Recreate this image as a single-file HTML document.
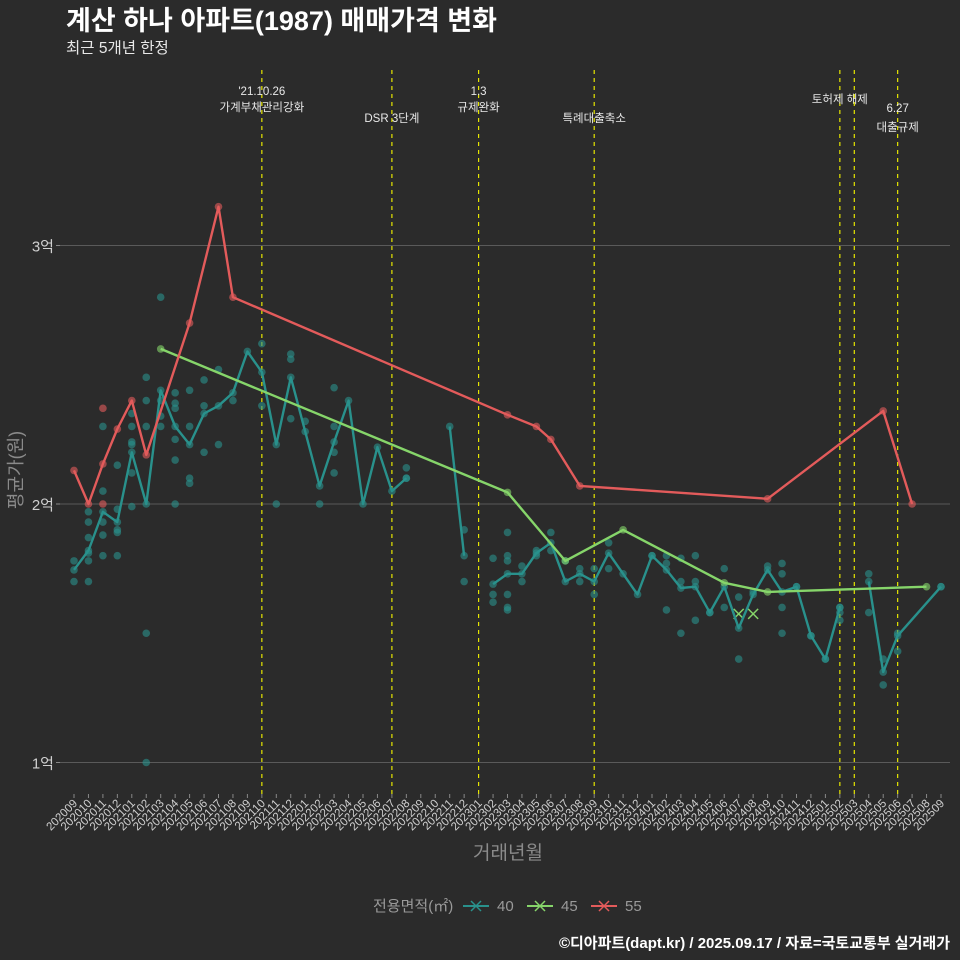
<!DOCTYPE html>
<html><head><meta charset="utf-8"><style>
body{margin:0;background:#2b2b2b;}
svg{display:block;font-family:"Liberation Sans","Noto Sans CJK KR",sans-serif;}
</style></head><body>
<svg id="chart" width="960" height="960" viewBox="0 0 960 960" xmlns="http://www.w3.org/2000/svg">
<rect width="960" height="960" fill="#2b2b2b"/>
<text x="66" y="30" fill="#ffffff" font-size="27" font-weight="bold">계산 하나 아파트(1987) 매매가격 변화</text>
<text x="66" y="53" fill="#e8e8e8" font-size="15.5">최근 5개년 한정</text>
<g id="grid"></g><g id="events"></g><g id="dots"></g><g id="lines"></g><g id="xaxis"></g><g id="yaxis"></g>
<text x="22" y="470" fill="#8a8a8a" font-size="18" text-anchor="middle" transform="rotate(-90 22 470)">평균가(원)</text>
<text x="508" y="859" fill="#8a8a8a" font-size="19" text-anchor="middle">거래년월</text>
<g>
<text x="373" y="911" fill="#9a9a9a" font-size="15">전용면적(㎡)</text>
<g><line x1="463" y1="906" x2="489" y2="906" stroke="#29918c" stroke-width="2"/><path d="M471 901l10 10M481 901l-10 10" stroke="#29918c" stroke-width="1.5"/><text x="497" y="911" fill="#9a9a9a" font-size="15">40</text></g>
<g><line x1="527" y1="906" x2="553" y2="906" stroke="#86d56a" stroke-width="2"/><path d="M535 901l10 10M545 901l-10 10" stroke="#86d56a" stroke-width="1.5"/><text x="561" y="911" fill="#9a9a9a" font-size="15">45</text></g>
<g><line x1="591" y1="906" x2="617" y2="906" stroke="#e35b5b" stroke-width="2"/><path d="M599 901l10 10M609 901l-10 10" stroke="#e35b5b" stroke-width="1.5"/><text x="625" y="911" fill="#9a9a9a" font-size="15">55</text></g>
</g>
<text x="950" y="948" fill="#ffffff" font-size="15" font-weight="bold" text-anchor="end">©디아파트(dapt.kr) / 2025.09.17 / 자료=국토교통부 실거래가</text>
</svg>
<script>
const yTicks=[1,2,3];
const yTickLabels=["1억","2억","3억"];
const startYear=2020, startMonth=9, monthCount=61;
// 40㎡ monthly average (null = break)
const m40=[0,1,2,3,4,5,6,7,8,9,10,11,12,13,14,15,16,17,18,19,20,21,22,23,null,26,27,null,29,30,31,32,33,34,35,36,37,38,39,40,41,42,43,44,45,46,47,48,49,50,51,52,53,null,55,56,57,60];
const v40=[1.745,1.82,1.97,1.93,2.20,2.00,2.44,2.30,2.23,2.35,2.38,2.43,2.59,2.51,2.23,2.49,2.28,2.07,2.24,2.40,2.00,2.22,2.05,2.10,null,2.30,1.80,null,1.69,1.73,1.73,1.81,1.85,1.70,1.73,1.70,1.81,1.73,1.65,1.80,1.745,1.675,1.68,1.58,1.68,1.52,1.65,1.745,1.66,1.68,1.49,1.40,1.60,null,1.70,1.35,1.49,1.68];
const m45=[6,30,34,38,45,48,59];
const v45=[2.60,2.045,1.78,1.90,1.695,1.66,1.68];
const m55=[0,1,2,3,4,5,8,10,11,30,32,33,35,48,56,58];
const v55=[2.13,2.00,2.155,2.29,2.40,2.19,2.70,3.15,2.80,2.345,2.30,2.25,2.07,2.02,2.36,2.00];
// individual 40㎡ transactions
const d40m=[0,0,1,1,1,1,1,1,2,2,2,2,2,3,3,3,3,3,4,4,4,4,4,4,5,5,5,5,5,6,6,6,6,7,7,7,7,7,7,8,8,8,8,9,9,9,10,10,11,13,13,14,15,15,15,16,17,18,18,18,18,23,23,27,27,29,29,29,30,30,30,30,30,30,31,31,32,32,33,33,34,35,35,36,36,37,37,40,41,41,41,42,42,42,43,43,43,44,45,45,46,46,47,48,49,49,49,49,50,51,52,53,53,53,55,55,56,56,57,57,60];
const d40v=[1.78,1.70,1.97,1.93,1.87,1.81,1.78,1.70,2.30,2.05,1.93,1.88,1.80,2.15,1.98,1.90,1.89,1.80,2.35,2.30,2.24,2.23,2.12,1.99,2.49,2.40,2.30,1.50,1.00,2.80,2.40,2.34,2.30,2.43,2.39,2.37,2.25,2.17,2.00,2.44,2.30,2.10,2.08,2.48,2.38,2.20,2.52,2.23,2.40,2.62,2.38,2.00,2.58,2.56,2.33,2.32,2.00,2.45,2.30,2.20,2.12,2.14,2.10,1.90,1.70,1.79,1.65,1.62,1.89,1.80,1.78,1.65,1.60,1.59,1.76,1.70,1.82,1.80,1.89,1.82,1.78,1.75,1.70,1.75,1.65,1.85,1.75,1.80,1.80,1.77,1.59,1.79,1.70,1.50,1.80,1.70,1.55,1.58,1.75,1.60,1.64,1.40,1.66,1.76,1.77,1.73,1.60,1.50,1.68,1.49,1.40,1.60,1.58,1.55,1.73,1.58,1.40,1.30,1.50,1.43,1.68];
const d45m=[46,47,48];
const d45v=[1.575,1.575,1.575];
const d55m=[2,2];
const d55v=[2.37,2.00];
const evMonths=[13,22,28,36,53,54,57];
const evLabel1=["'21.10.26","","1.3","","","","6.27"];
const evLabel2=["가계부채관리강화","DSR 3단계","규제완화","특례대출축소","토허제 해제","","대출규제"];

const NS="http://www.w3.org/2000/svg";
const X0=74,XW=867,YBASE=504,YU=258.5;
function x(i){return X0+i*XW/(monthCount-1);}
function y(v){return YBASE-(v-2)*YU;}
function mk(tag,attrs,parent){const e=document.createElementNS(NS,tag);for(const k in attrs)e.setAttribute(k,attrs[k]);parent.appendChild(e);return e;}
const grid=document.getElementById('grid'),yax=document.getElementById('yaxis'),xax=document.getElementById('xaxis');
yTicks.forEach((t,k)=>{
 const l=mk('line',{x1:60,x2:950,y1:y(t),y2:y(t),stroke:'#5a5a5a','stroke-width':1},grid);
 
 
 const tk=mk('line',{x1:56,x2:60,y1:y(t),y2:y(t),stroke:'#888'},yax);
 
 
 const tx=mk('text',{x:54,y:y(t)+6,fill:'#d0d0d0','font-size':15,'text-anchor':'end'},yax);
 tx.textContent=yTickLabels[k];
 
 
});
for(let i=0;i<monthCount;i++){
 const tot=startMonth-1+i,yr=startYear+Math.floor(tot/12),mo=tot%12+1;
 const lab=yr+(mo<10?'0':'')+mo;
 const tk=mk('line',{x1:x(i),x2:x(i),y1:794,y2:798,stroke:'#888'},xax);
 
 
 const t=mk('text',{x:x(i)+4,y:804,fill:'#d0d0d0','font-size':11.5,'text-anchor':'end',transform:`rotate(-45 ${x(i)+4} 804)`},xax);
 t.textContent=lab;
 
 
}
const ev=document.getElementById('events');
evMonths.forEach((m,k)=>{
 const l=mk('line',{x1:x(m),x2:x(m),y1:70,y2:798,stroke:'#e6e600','stroke-width':1.2,'stroke-dasharray':'4,4'},ev);
 
 
 const two=evLabel1[k]!=='';
 const yy=[[95,111],[122,122],[95,111],[122,122],[103,103],[0,0],[112,131]][k];
 if(two){const a=mk('text',{x:x(m),y:yy[0],fill:'#e8e8e8','font-size':11.5,'text-anchor':'middle'},ev);a.textContent=evLabel1[k];
  
  }
 if(evLabel2[k]){const b=mk('text',{x:x(m),y:yy[1],fill:'#e8e8e8','font-size':11.5,'text-anchor':'middle'},ev);b.textContent=evLabel2[k];
  
  }
});
const dots=document.getElementById('dots');
function dotset(ms,vs,col,name){ms.forEach((m,k)=>{if(m===null||vs[k]===null)return;
 const c=mk('circle',{cx:x(m),cy:y(vs[k]),r:3.8,fill:col,'fill-opacity':0.6},dots);
 
 });}
dotset(d40m,d40v,'#29918c','dot-40');
dotset(m40,v40,'#29918c','dot-40');
dotset(d55m,d55v,'#e35b5b','dot-55');
dotset(m45,v45,'#86d56a','dot-45');
dotset(m55,v55,'#e35b5b','dot-55');
d45m.forEach((m,k)=>{if(k>1)return;const cx=x(m),cy=y(d45v[k]);
 const p=mk('path',{d:`M${cx-5} ${cy-5}l10 10M${cx+5} ${cy-5}l-10 10`,stroke:'#86d56a','stroke-width':1.5},dots);
 
 });
const lines=document.getElementById('lines');
function line(ms,vs,col,name){let d='',pen=false;ms.forEach((m,k)=>{if(m===null||vs[k]===null){pen=false;return;}
 d+=(pen?'L':'M')+x(m).toFixed(1)+' '+y(vs[k]).toFixed(1);pen=true;});
 const p=mk('path',{d:d,fill:'none',stroke:col,'stroke-width':2.4,'stroke-linejoin':'round'},lines);
 
 }
line(m40,v40,'#29918c','line-40');
line(m45,v45,'#86d56a','line-45');
line(m55,v55,'#e35b5b','line-55');
</script>
</body></html>
